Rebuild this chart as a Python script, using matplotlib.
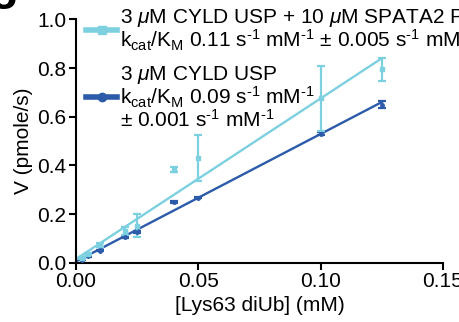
import numpy as np
import matplotlib
matplotlib.use('Agg')
import matplotlib.pyplot as plt
from matplotlib.lines import Line2D

plt.rcParams['font.family'] = ['Liberation Sans', 'DejaVu Sans']
plt.rcParams['mathtext.fontset'] = 'custom'
plt.rcParams['mathtext.rm'] = 'Liberation Sans'
plt.rcParams['mathtext.it'] = 'Liberation Sans:italic'

# substraattipitoisuudet (mM)
conc = [0.0025, 0.005, 0.01, 0.02, 0.025, 0.04, 0.05, 0.10, 0.125]

# CYLD USP + SPATA2
v_spata = [0.02, 0.035, 0.074, 0.132, 0.153, 0.383, 0.43, 0.675, 0.795]
err_spata = [0.004, 0.005, 0.008, 0.016, 0.046, 0.012, 0.095, 0.132, 0.048]

# CYLD USP yksin
v_cyld = [0.013, 0.026, 0.05, 0.105, 0.125, 0.25, 0.268, 0.53, 0.65]
err_cyld = [0.002, 0.003, 0.003, 0.004, 0.004, 0.005, 0.004, 0.006, 0.015]

# sovitetut suorat (kulmakerroin, vakio)
fit_spata = (6.6, 0.015)
fit_cyld = (5.24, 0.005)

light = '#7dd0e0'
dark = '#2b5ba9'

inv = '$^{\\mathrm{\u2010}1}$'
kcat = 'k$_{\\mathrm{cat}}$/K$_{\\mathrm{M}}$'
label_spata = ('3 $\\mu$M CYLD USP + 10 $\\mu$M SPATA2 PUB\n'
               + kcat + ' 0.11 s' + inv + ' mM' + inv
               + ' \u00b1 0.005 s' + inv + ' mM' + inv)
label_cyld = ('3 $\\mu$M CYLD USP\n'
              + kcat + ' 0.09 s' + inv + ' mM' + inv + '\n'
              + '\u00b1 0.001 s' + inv + ' mM' + inv)

fig = plt.figure(figsize=(4.6, 3.22), dpi=100)
ax = fig.add_axes([0.165, 0.184, 0.798, 0.756])

xfit = np.array([0.0, max(conc)])
for v, e, fit, col, mk in [(v_cyld, err_cyld, fit_cyld, dark, 'o'),
                           (v_spata, err_spata, fit_spata, light, 's')]:
    ax.errorbar(conc, v, yerr=e, fmt=mk, ms=2.5, color=col, ecolor=col,
                elinewidth=1.6, capsize=3, capthick=1.6, zorder=3)
    ax.plot(xfit, fit[0] * xfit + fit[1], color=col, lw=1.7, zorder=2)

ax.set_xlim(0, 0.15)
ax.set_ylim(0, 1.0)
ax.set_xticks([0.0, 0.05, 0.10, 0.15])
ax.set_xticklabels(['0.00', '0.05', '0.10', '0.15'])
ax.set_yticks(np.arange(0, 1.01, 0.2))
ax.set_yticklabels(['0.0', '0.2', '0.4', '0.6', '0.8', '1.0'])
ax.tick_params(labelsize=15, width=1.5, length=5, direction='out', pad=2)
for s in ['top', 'right']:
    ax.spines[s].set_visible(False)
for s in ['left', 'bottom']:
    ax.spines[s].set_linewidth(1.5)
ax.set_xlabel('[Lys63 diUb] (mM)', fontsize=15, labelpad=3)
ax.set_ylabel('V (pmole/s)', fontsize=15, labelpad=3)

handles = [Line2D([], [], color=light, lw=4, marker='s', ms=6),
           Line2D([], [], color=dark, lw=4, marker='o', ms=6)]
leg = ax.legend(handles, [label_spata, label_cyld], loc='upper left',
                bbox_to_anchor=(0.005, 1.085), frameon=False, fontsize=15,
                handlelength=1.5, handletextpad=0.15, labelspacing=0.5,
                borderaxespad=0.0)
for t in leg.get_texts():
    t.set_linespacing(0.95)

# paneelin kirjain, yläosa jää kuvan ulkopuolelle
fig.text(18 / 460, 1 + 1 / 322, 'g', fontsize=34, fontweight='bold',
         ha='right', va='baseline')

fig.savefig('out.png', dpi=100)
